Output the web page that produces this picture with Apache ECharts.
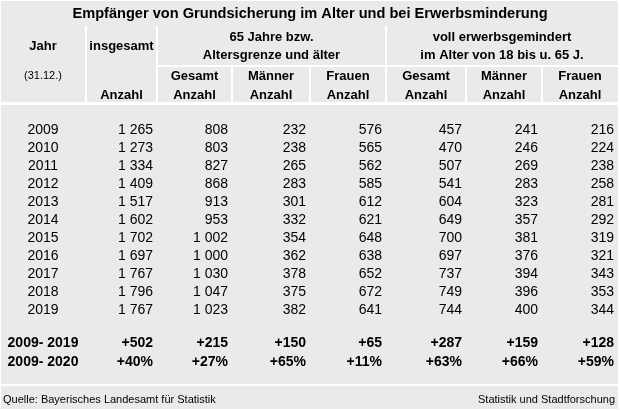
<!DOCTYPE html>
<html>
<head>
<meta charset="utf-8">
<script src="https://cdn.jsdelivr.net/npm/echarts@6/dist/echarts.min.js"></script>
<style>
html, body { margin: 0; padding: 0; background: #fff; }
#main { width: 620px; height: 410px; }
</style>
</head>
<body>
<div id="main"></div>
<script>
// table values
var years = ['2009', '2010', '2011', '2012', '2013', '2014', '2015', '2016', '2017', '2018', '2019'];
var insgesamt    = [1265, 1273, 1334, 1409, 1517, 1602, 1702, 1697, 1767, 1796, 1767];
var alterGesamt  = [808, 803, 827, 868, 913, 953, 1002, 1000, 1030, 1047, 1023];
var alterMaenner = [232, 238, 265, 283, 301, 332, 354, 362, 378, 375, 382];
var alterFrauen  = [576, 565, 562, 585, 612, 621, 648, 638, 652, 672, 641];
var emGesamt     = [457, 470, 507, 541, 604, 649, 700, 697, 737, 749, 744];
var emMaenner    = [241, 246, 269, 283, 323, 357, 381, 376, 394, 396, 400];
var emFrauen     = [216, 224, 238, 258, 281, 292, 319, 321, 343, 353, 344];
var summaryLabels = ['2009- 2019', '2009- 2020'];
var changeAbs = [502, 215, 150, 65, 287, 159, 128];
var changePct = [40, 27, 65, 11, 63, 66, 59];

var title = 'Empfänger von Grundsicherung im Alter und bei Erwerbsminderung';
var subHeads = ['Gesamt', 'Männer', 'Frauen', 'Gesamt', 'Männer', 'Frauen'];
var sourceText = 'Quelle: Bayerisches Landesamt für Statistik';
var creditText = 'Statistik und Stadtforschung';

// layout
var colEdges = [0, 86, 157, 232, 310, 386, 466, 542, 618];
var FONT = "'Liberation Sans', Arial, sans-serif";
var BG = '#e9eaec';
var INK = '#000';

function fmt(n) {
  if (n < 1000) return String(n);
  return Math.floor(n / 1000) + ' ' + String(n % 1000).padStart(3, '0');
}

// build cell lists [col, row] + text
var bodyCells = [], bodyText = [];
var cols = [insgesamt, alterGesamt, alterMaenner, alterFrauen, emGesamt, emMaenner, emFrauen];
years.forEach(function (y, r) {
  bodyCells.push([0, r]); bodyText.push(y);
  cols.forEach(function (arr, c) {
    bodyCells.push([c + 1, r]); bodyText.push(fmt(arr[r]));
  });
});
var sumCells = [], sumText = [];
summaryLabels.forEach(function (lab, r) {
  sumCells.push([0, r]); sumText.push(lab);
  var arr = r === 0 ? changeAbs : changePct;
  arr.forEach(function (v, c) {
    sumCells.push([c + 1, r]); sumText.push(r === 0 ? '+' + v : '+' + v + '%');
  });
});

function cellRenderer(texts, bold) {
  return function (params, api) {
    var c = api.value(0);
    var x = c === 0 ? (colEdges[0] + colEdges[1]) / 2 : colEdges[c + 1] - 4;
    var p = api.coord([x, api.value(1)]);
    var al = c === 0 ? 'center' : 'right';
    return {
      type: 'text',
      x: p[0], y: p[1],
      style: {
        text: texts[params.dataIndex],
        fill: INK,
        font: (bold ? 'bold ' : '') + '14px ' + FONT,
        align: al, verticalAlign: 'middle',
        textAlign: al, textVerticalAlign: 'middle'
      }
    };
  };
}

function txt(s, x, y, size, bold, align) {
  var al = align || 'center';
  return {
    type: 'text', x: x, y: y, silent: true,
    style: {
      text: s, fill: INK,
      font: (bold ? 'bold ' : '') + size + 'px ' + FONT,
      align: al, verticalAlign: 'middle',
      textAlign: al, textVerticalAlign: 'middle'
    }
  };
}
function line(x, y, w, h) {
  return { type: 'rect', silent: true, shape: { x: x, y: y, width: w, height: h }, style: { fill: '#fff' } };
}
function mid(a, b) { return (colEdges[a] + colEdges[b]) / 2; }

var graphics = [
  // outer border and rules
  line(0, 0, 620, 1), line(0, 0, 1, 410), line(618, 0, 2, 410), line(0, 409, 620, 1),
  line(colEdges[1] - 1, 26, 2, 78), line(colEdges[2] - 1, 26, 2, 78), line(colEdges[5] - 1, 26, 2, 78),
  line(colEdges[2], 65, colEdges[8] - colEdges[2], 2),
  line(colEdges[3] - 1, 66, 2, 38), line(colEdges[4] - 1, 66, 2, 38),
  line(colEdges[6] - 1, 66, 2, 38), line(colEdges[7] - 1, 66, 2, 38),
  line(0, 102, 620, 3),
  line(0, 384, 620, 2),
  // header texts
  txt(title, 310, 14, 14.6, true),
  txt('Jahr', mid(0, 1), 46, 13, true),
  txt('(31.12.)', mid(0, 1), 76, 11, false),
  txt('insgesamt', mid(1, 2), 46, 13, true),
  txt('Anzahl', mid(1, 2), 95, 13, true),
  txt('65 Jahre bzw.', mid(2, 5), 37, 13, true),
  txt('Altersgrenze und älter', mid(2, 5), 55, 13, true),
  txt('voll erwerbsgemindert', mid(5, 8), 37, 13, true),
  txt('im Alter von 18 bis u. 65 J.', mid(5, 8), 55, 13, true),
  txt(sourceText, 3, 400, 11, false, 'left'),
  txt(creditText, 615, 400, 11, false, 'right')
];
subHeads.forEach(function (s, i) {
  graphics.push(txt(s, mid(i + 2, i + 3), 76, 13, true));
  graphics.push(txt('Anzahl', mid(i + 2, i + 3), 95, 13, true));
});

var chart = echarts.init(document.getElementById('main'), null, { renderer: 'canvas' });
chart.setOption({
  backgroundColor: BG,
  animation: false,
  grid: [
    { left: 0, right: 0, top: 121, height: 198 },
    { left: 0, right: 0, top: 333.5, height: 38 }
  ],
  xAxis: [
    { type: 'value', gridIndex: 0, min: 0, max: 620, show: false },
    { type: 'value', gridIndex: 1, min: 0, max: 620, show: false }
  ],
  yAxis: [
    { type: 'category', gridIndex: 0, data: years, inverse: true, show: false },
    { type: 'category', gridIndex: 1, data: summaryLabels, inverse: true, show: false }
  ],
  series: [
    { type: 'custom', xAxisIndex: 0, yAxisIndex: 0, data: bodyCells, renderItem: cellRenderer(bodyText, false), silent: true },
    { type: 'custom', xAxisIndex: 1, yAxisIndex: 1, data: sumCells, renderItem: cellRenderer(sumText, true), silent: true }
  ],
  graphic: graphics
});
</script>
</body>
</html>
